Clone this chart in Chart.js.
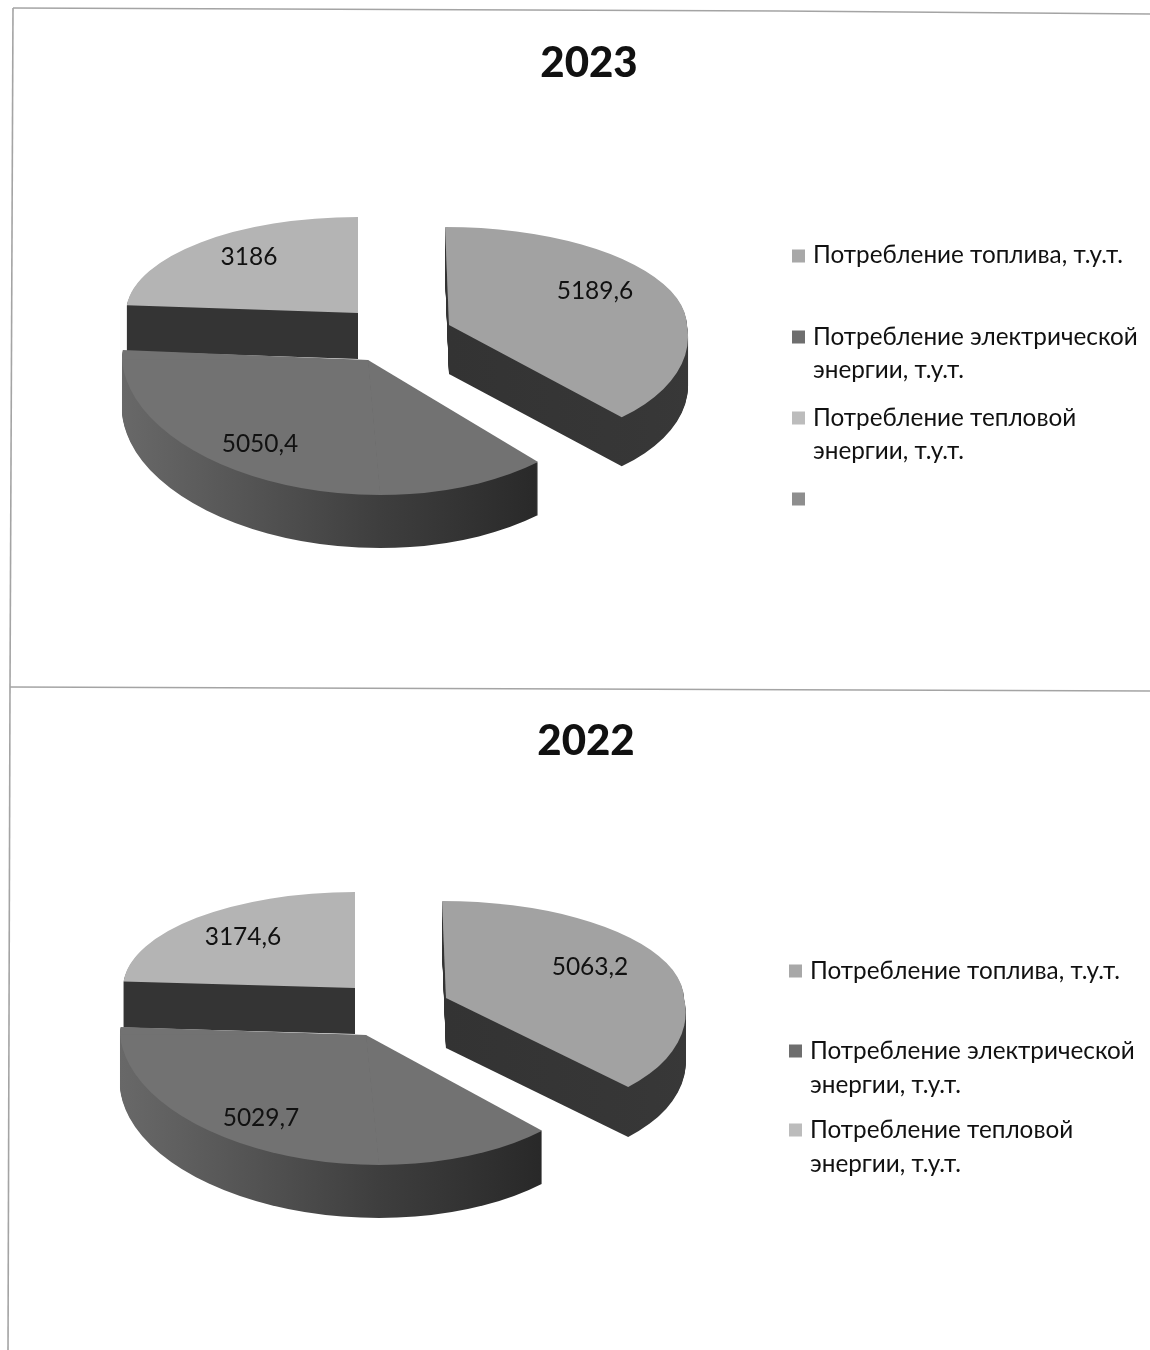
<!DOCTYPE html>
<html>
<head>
<meta charset="utf-8">
<script src="https://cdn.jsdelivr.net/npm/chart.js@4"></script>
<style>
html,body{margin:0;padding:0;background:#fff;width:1150px;height:1350px;overflow:hidden}
.box{position:absolute;left:0;width:1150px}
#b1{top:0;height:694px}
#b2{top:688px;height:662px}
canvas{filter:blur(0.4px)}
</style>
</head>
<body>
<div class="box" id="b1"><canvas id="c1" width="1150" height="694"></canvas></div>
<div class="box" id="b2"><canvas id="c2" width="1150" height="662"></canvas></div>
<script>
const titles = ['2023', '2022'];
const categories2023 = ['Потребление топлива, т.у.т.', 'Потребление электрической энергии, т.у.т.', 'Потребление тепловой энергии, т.у.т.', ''];
const categories2022 = ['Потребление топлива, т.у.т.', 'Потребление электрической энергии, т.у.т.', 'Потребление тепловой энергии, т.у.т.'];
const values2023 = [5189.6, 5050.4, 3186, null];
const values2022 = [5063.2, 5029.7, 3174.6];
const topColors = ['#a2a2a2', '#727272', '#b4b4b4', '#8e8e8e'];
const legendColors = ['#a8a8a8', '#6e6e6e', '#bcbcbc', '#8e8e8e'];

const fontFamily = 'Lato, "Noto Sans", sans-serif';

function fmt(v){ return String(v).replace('.', ','); }

function drawSlice(ctx, el, s, yoff){
  const R = el.outerRadius;
  [[1,-1],[-1,-1],[1,1],[-1,1]].forEach(q => {
    const a = (q[0] > 0 ? s.rr : s.rl) / R;
    const d = (q[1] > 0 ? s.rb : s.rt) / R;
    const c = (q[1] > 0 ? s.k : s.ku) * d;
    ctx.save();
    ctx.transform(a, 0, c, d, s.x, s.y + yoff);
    ctx.translate(-el.x, -el.y);
    ctx.beginPath();
    const m = 0.3;
    ctx.rect(q[0] > 0 ? el.x - m : el.x - R - 4, q[1] > 0 ? el.y - m : el.y - R - 4, R + 4 + m, R + 4 + m);
    ctx.clip();
    el.draw(ctx);
    ctx.restore();
  });
}

const pie3d = {
  id: 'pie3d',
  beforeDatasetsDraw(chart, args, opts){
    const ctx = chart.ctx;
    const els = chart.getDatasetMeta(0).data;
    opts.order.forEach(i => {
      const el = els[i], s = opts.slices[i];
      if (!el || !el.circumference) return;
      const base = el.options;
      const g = ctx.createLinearGradient(el.x - el.outerRadius, 0, el.x + el.outerRadius, 0);
      s.side.forEach((col, j) => g.addColorStop(j / (s.side.length - 1), col));
      const sideOpts = Object.create(base);
      sideOpts.backgroundColor = g;
      el.options = sideOpts;
      for (let y = s.depth; y >= 1; y--) drawSlice(ctx, el, s, y);
      el.options = base;
      drawSlice(ctx, el, s, 0);
    });
    return false;
  },
  afterDraw(chart, args, opts){
    const ctx = chart.ctx;
    ctx.save();
    ctx.strokeStyle = '#a4a4a4';
    ctx.lineWidth = 1.6;
    opts.rules.forEach(r => { ctx.beginPath(); ctx.moveTo(r[0], r[1]); ctx.lineTo(r[2], r[3]); ctx.stroke(); });
    // value labels
    ctx.fillStyle = '#111';
    ctx.textAlign = 'center';
    ctx.textBaseline = 'middle';
    ctx.font = '24.5px ' + fontFamily;
    const vals = chart.data.datasets[0].data;
    opts.valuePos.forEach((p, i) => { ctx.fillText(fmt(vals[i]), p[0], p[1]); });
    // legend
    ctx.textAlign = 'left';
    ctx.font = '24.3px ' + fontFamily;
    opts.legendRows.forEach((row, i) => {
      ctx.fillStyle = legendColors[i];
      ctx.fillRect(opts.legendX, row.sq - 6.5, 13, 13);
      ctx.fillStyle = '#111';
      row.lines.forEach(l => ctx.fillText(l.t, opts.legendX + 21, l.y));
    });
    ctx.restore();
  }
};

function makeChart(id, title, labels, values, pad, titleTop, cfg){
  return new Chart(document.getElementById(id), {
    type: 'pie',
    data: { labels: labels, datasets: [{ data: values, backgroundColor: topColors.slice(0, values.length), borderWidth: 0 }] },
    plugins: [pie3d],
    options: {
      responsive: false,
      animation: false,
      layout: { padding: { left: pad } },
      events: [],
      plugins: {
        legend: { display: false },
        tooltip: { enabled: false },
        title: { display: true, text: title, fullSize: false, color: '#111',
                 font: { family: fontFamily, size: 42, weight: '900' },
                 padding: { top: titleTop, bottom: 10 } },
        pie3d: cfg
      }
    }
  });
}

makeChart('c1', titles[0], categories2023, values2023, 28, 38, {
  order: [2, 0, 1],
  slices: [
    { x: 449, y: 325, rl: 238, rr: 238, rt: 98, rb: 122, ku: 0.04, k: 0.185, depth: 49, side: ['#333333', '#333333', '#383838'] },
    { x: 368, y: 360, rl: 246, rr: 246, rt: 125, rb: 135, ku: 0, k: 0.09, depth: 53, side: ['#686868', '#3e3e3e', '#1e1e1e'] },
    { x: 358, y: 313, rl: 232, rr: 232, rt: 96, rb: 96, ku: 0, k: 0, depth: 46, side: ['#343434', '#343434'] }
  ],
  valuePos: [[595, 291], [260, 444], [249, 257]],
  legendX: 792,
  legendRows: [
    { sq: 256, lines: [{ t: 'Потребление топлива, т.у.т.', y: 255 }] },
    { sq: 337, lines: [{ t: 'Потребление электрической', y: 337 }, { t: 'энергии, т.у.т.', y: 370 }] },
    { sq: 418, lines: [{ t: 'Потребление тепловой', y: 418 }, { t: 'энергии, т.у.т.', y: 451 }] },
    { sq: 499, lines: [] }
  ],
  rules: [[13, 8, 400, 9.5], [400, 9.5, 780, 11], [780, 11, 1150, 14], [13, 8, 10, 688], [10, 687, 1150, 691]]
});

makeChart('c2', titles[1], categories2022, values2022, 22, 28, {
  order: [2, 0, 1],
  slices: [
    { x: 446, y: 310, rl: 238, rr: 238, rt: 97, rb: 121, ku: 0.04, k: 0.236, depth: 50, side: ['#333333', '#333333', '#383838'] },
    { x: 366, y: 347, rl: 246, rr: 246, rt: 118, rb: 130, ku: 0, k: 0.1, depth: 53, side: ['#686868', '#3e3e3e', '#1e1e1e'] },
    { x: 355, y: 300, rl: 232, rr: 232, rt: 96, rb: 96, ku: 0, k: 0, depth: 46, side: ['#343434', '#343434'] }
  ],
  valuePos: [[590, 279], [261, 430], [243, 249]],
  legendX: 789,
  legendRows: [
    { sq: 283, lines: [{ t: 'Потребление топлива, т.у.т.', y: 283 }] },
    { sq: 363, lines: [{ t: 'Потребление электрической', y: 363 }, { t: 'энергии, т.у.т.', y: 397 }] },
    { sq: 442, lines: [{ t: 'Потребление тепловой', y: 442 }, { t: 'энергии, т.у.т.', y: 476 }] }
  ],
  rules: [[10, 0, 8, 662]]
});
</script>
</body>
</html>
